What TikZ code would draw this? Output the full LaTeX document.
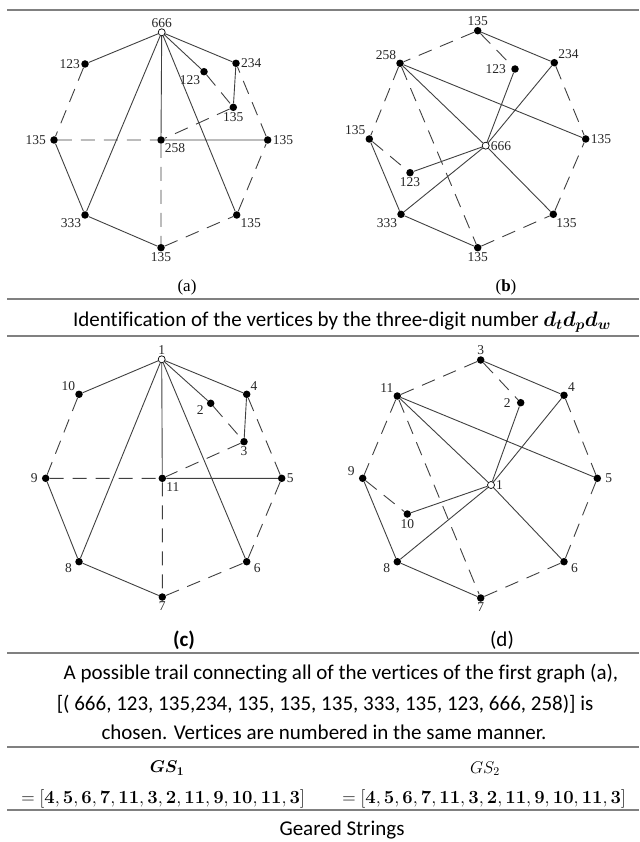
\RequirePackage{fix-cm}
\documentclass[tikz,border=0pt]{standalone}
\usepackage[no-math]{fontspec}
\usepackage{amsmath}
\setmainfont{Carlito}[Ligatures=CommonOff]
\newfontfamily\timesfont{Liberation Serif}
\definecolor{rulegray}{RGB}{128,128,128}
\tikzset{
  vtx/.style={circle,fill=black,inner sep=0pt,minimum size=7.5pt},
  hollow/.style={circle,draw=black,fill=white,inner sep=0pt,minimum size=7pt,line width=0.7pt},
  lbl/.style={font=\timesfont\fontsize{13.5}{13.5}\selectfont,inner sep=1pt,text=black!85},
  every label/.style={lbl},
  ln/.style={draw=black!75,line width=0.9pt},
  dln/.style={ln,dash pattern=on 14pt off 9pt},
  rule/.style={draw=rulegray,line width=2.2pt},
  subcap/.style={font=\timesfont\fontsize{17}{17}\selectfont,inner sep=0pt},
  txt/.style={font=\fontsize{21}{25}\selectfont,inner sep=0pt,anchor=base},
  mth/.style={font=\fontsize{18.5}{22}\selectfont,inner sep=0pt,anchor=base},
}
\begin{document}
\begin{tikzpicture}[x=1pt,y=-1pt]
\useasboundingbox (0,0) rectangle (639,842);
% table rules
\foreach \y in {10,299,336,652.7,746.7,810}
  \draw[rule] (7,\y) -- (639,\y);

% graph (a)
\node[hollow,label=above:666] (aT) at (161.7,32.3) {};
\node[vtx,label=left:123] (aUL) at (85,64) {};
\node[vtx,label=below left:123] (aI) at (204,71.7) {};
\node[vtx,label=right:234] (aUR) at (236,63.3) {};
\node[vtx,label=below:135] (aJ) at (233.3,107.3) {};
\node[vtx,label={[label distance=3pt]left:135}] (aL) at (54,140) {};
\node[vtx,label=below right:258] (aC) at (161,140) {};
\node[vtx,label=right:135] (aR) at (267.7,140) {};
\node[vtx,label=below left:333] (aLL) at (85,215) {};
\node[vtx,label=below right:135] (aLR) at (236.7,215) {};
\node[vtx,label=below:135] (aB) at (161,247.7) {};
\node[subcap] (capa) at (187,287) {(a)};

% graph (b)
\node[vtx,label=above:135] (bT) at (477.7,30.7) {};
\node[vtx,label=above left:258] (bUL) at (400,63.3) {};
\node[vtx,label={[label distance=4pt]left:123}] (bI) at (515,69) {};
\node[vtx,label=above right:234] (bUR) at (554.3,62.7) {};
\node[vtx,label=above left:135] (bL) at (369.3,139) {};
\node[hollow,label=right:666] (bC) at (485.7,145.7) {};
\node[vtx,label=right:135] (bR) at (585.7,139) {};
\node[vtx,label=below:123] (bJ) at (410,172.7) {};
\node[vtx,label=below left:333] (bLL) at (401,214.3) {};
\node[vtx,label=-60:135] (bLR) at (553.3,214.3) {};
\node[vtx,label=below:135] (bB) at (477.7,247.7) {};
\node[subcap] (capb) at (506,287) {(\textbf{b})};

\node[txt] (ident) at (342,326.7)
  {Identification of the vertices by the three-digit number $\boldsymbol{d_t d_p d_w}$};

% graph (c)
\node[hollow,label=above:1] (cT) at (161.7,359.3) {};
\node[vtx,label=above left:10] (cUL) at (79,394.3) {};
\node[vtx,label={[label distance=2pt]190:2}] (cI) at (210.7,403.3) {};
\node[vtx,label=above right:4] (cUR) at (246.7,394.3) {};
\node[vtx,label=below:3] (cJ) at (244,441.7) {};
\node[vtx,label={[label distance=3pt]left:9}] (cL) at (45.7,478.3) {};
\node[vtx,label=below right:11] (cC) at (162.3,478.3) {};
\node[vtx,label=right:5] (cR) at (281.7,478.3) {};
\node[vtx,label={[label distance=2pt]190:8}] (cLL) at (79,561.7) {};
\node[vtx,label={[label distance=2pt]-10:6}] (cLR) at (246.7,561.7) {};
\node[vtx,label=below:7] (cB) at (162.3,597) {};
\node[font=\fontsize{21}{21}\selectfont\bfseries,inner sep=0pt] (capc) at (184,640.5) {(c)};

% graph (d)
\node[vtx,label=above:3] (dT) at (480.7,360) {};
\node[vtx,label=above left:11] (dUL) at (397.3,396) {};
\node[vtx,label={[label distance=5pt]left:2}] (dI) at (520.7,402.7) {};
\node[vtx,label=above right:4] (dUR) at (564,395.3) {};
\node[vtx,label={[label distance=3pt]170:9}] (dL) at (362.7,478.3) {};
\node[hollow,label=right:1] (dC) at (491,485) {};
\node[vtx,label={[label distance=3pt]right:5}] (dR) at (597.3,478.3) {};
\node[vtx,label=below:10] (dJ) at (407.3,514) {};
\node[vtx,label={[label distance=2pt]190:8}] (dLL) at (397.3,561.7) {};
\node[vtx,label={[label distance=2pt]-10:6}] (dLR) at (564,561.7) {};
\node[vtx,label=below:7] (dB) at (480.7,598) {};
\node[font=\fontsize{21}{21}\selectfont,inner sep=0pt] (capd) at (502,640.5) {(d)};

% edges of (a) and (c)
\foreach \g in {a,c} {
  \draw[ln] (\g T) -- (\g UL) (\g T) -- (\g UR) (\g T) -- (\g LL) (\g T) -- (\g C)
    (\g T) -- (\g LR) (\g T) -- (\g I) (\g UR) -- (\g J) (\g C) -- (\g R)
    (\g L) -- (\g LL) (\g LL) -- (\g B);
  \draw[dln] (\g I) -- (\g J) (\g J) -- (\g C) (\g UL) -- (\g L) (\g L) -- (\g C)
    (\g C) -- (\g B) (\g B) -- (\g LR) (\g LR) -- (\g R) (\g R) -- (\g UR);
}
% edges of (b) and (d)
\foreach \g in {b,d} {
  \draw[ln] (\g T) -- (\g UR) (\g I) -- (\g C) (\g UR) -- (\g C) (\g UL) -- (\g C)
    (\g UL) -- (\g R) (\g L) -- (\g LL) (\g J) -- (\g C) (\g C) -- (\g LL)
    (\g C) -- (\g LR) (\g LL) -- (\g B);
  \draw[dln] (\g T) -- (\g UL) (\g T) -- (\g I) (\g UR) -- (\g R) (\g UL) -- (\g L)
    (\g UL) -- (\g B) (\g L) -- (\g J) (\g B) -- (\g LR) (\g LR) -- (\g R);
}

% text rows
\node[txt] (trail1) at (341,679)
  {A possible trail connecting all of the vertices of the first graph (a),};
\node[txt] (trail2) at (325,710)
  {[( 666, 123, 135,234, 135, 135, 135, 333, 135, 123, 666, 258)] is};
\node[txt] (trail3) at (324,739.3)
  {chosen. Vertices are numbered in the same manner.};
\node[mth,font=\fontsize{17}{20}\selectfont] (gs1) at (167,772.7) {$\boldsymbol{GS_1}$};
\node[mth,font=\fontsize{17}{20}\selectfont] (gs2) at (485,773) {$GS_2$};
\node[mth] (list1) at (163,803.3)
  {$= [\mathbf{4}, \mathbf{5}, \mathbf{6}, \mathbf{7}, \mathbf{11}, \mathbf{3}, \mathbf{2}, \mathbf{11}, \mathbf{9}, \mathbf{10}, \mathbf{11}, \mathbf{3}]$};
\node[mth] (list2) at (484,803.3)
  {$= [\mathbf{4}, \mathbf{5}, \mathbf{6}, \mathbf{7}, \mathbf{11}, \mathbf{3}, \mathbf{2}, \mathbf{11}, \mathbf{9}, \mathbf{10}, \mathbf{11}, \mathbf{3}]$};
\node[txt] (geared) at (342,835.5) {Geared Strings};
\end{tikzpicture}
\end{document}
